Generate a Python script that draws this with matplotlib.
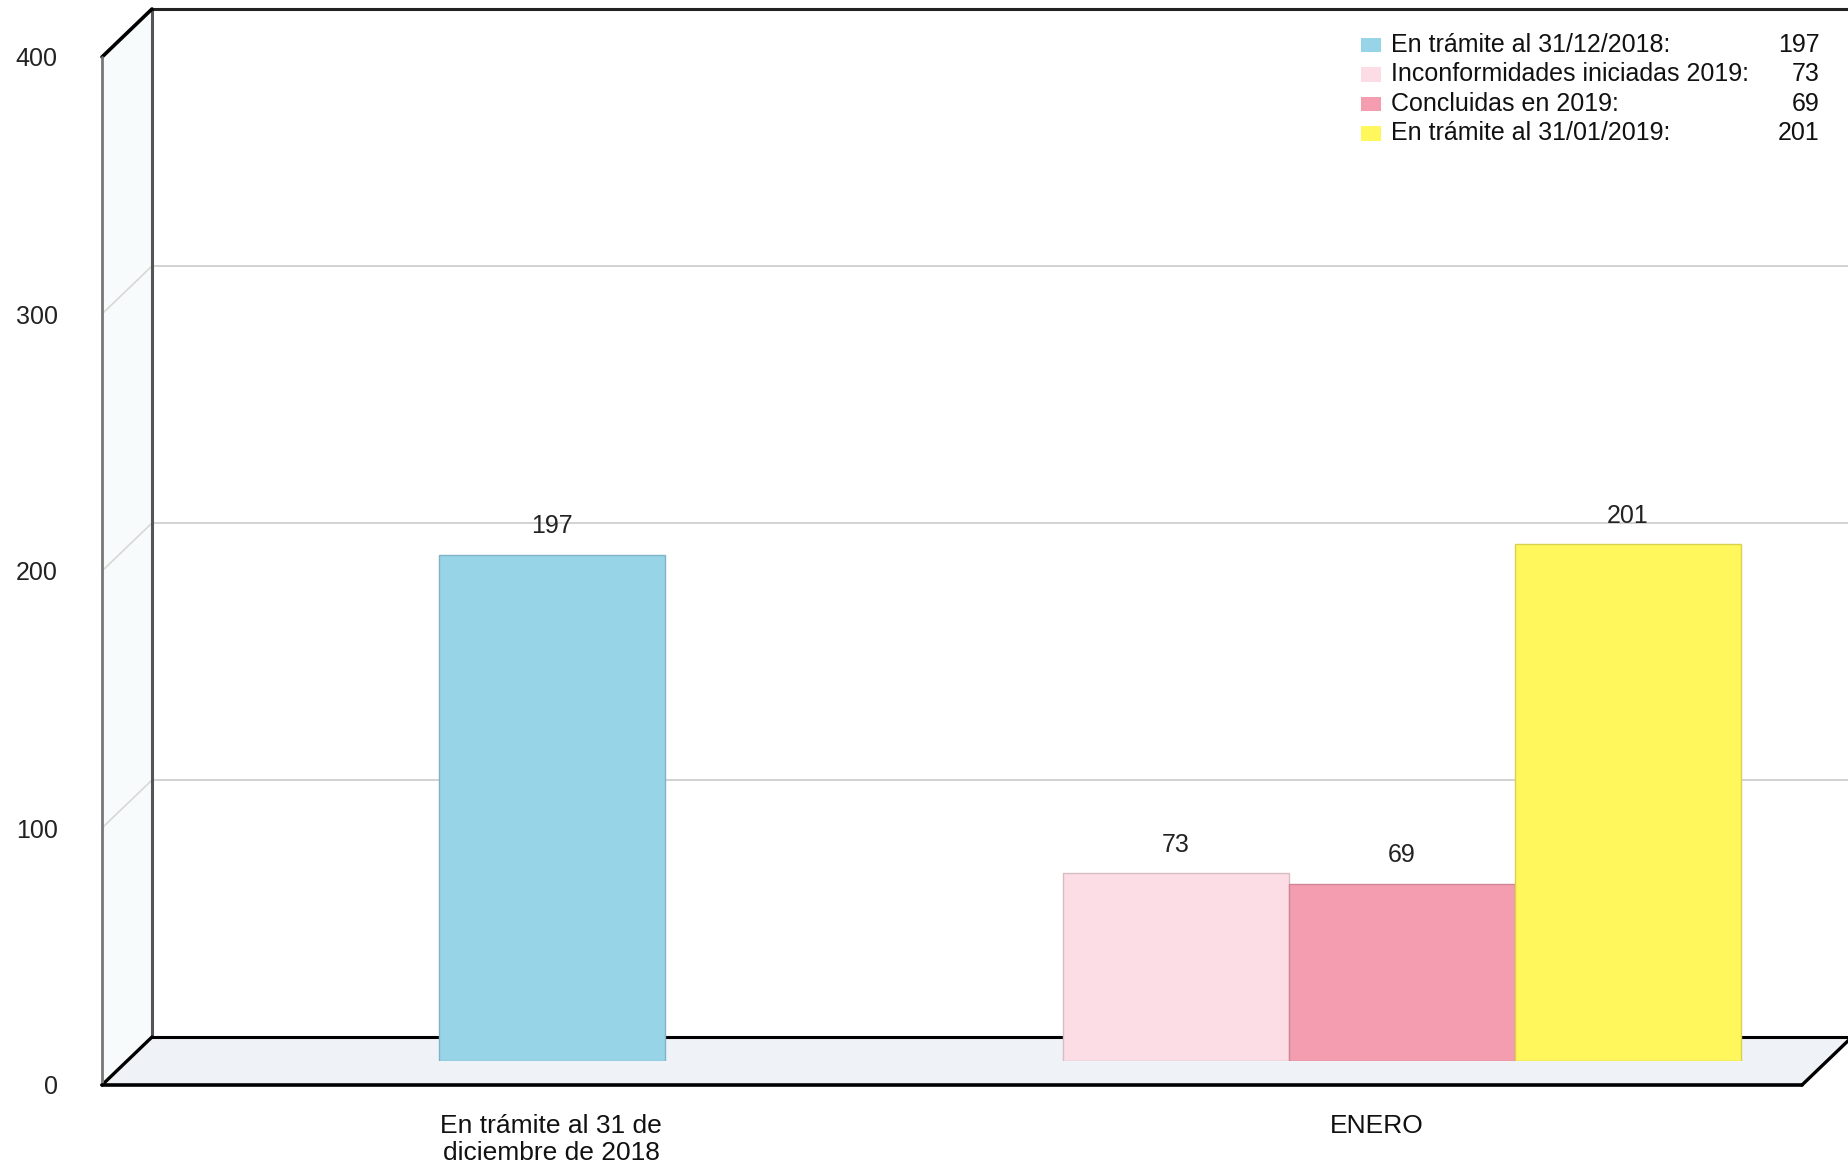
import numpy as np
import matplotlib.pyplot as plt
from matplotlib.lines import Line2D
from matplotlib.patches import Polygon, Rectangle
from matplotlib.colors import to_rgb
from matplotlib.transforms import ScaledTranslation

plt.rcParams['font.family'] = ['Liberation Sans', 'DejaVu Sans']

categories = ["En trámite al 31 de\ndiciembre de 2018", "ENERO"]
series = ["En trámite al 31/12/2018:", "Inconformidades iniciadas 2019:",
          "Concluidas en 2019:", "En trámite al 31/01/2019:"]
values = [197, 73, 69, 201]
bar_category = [0, 1, 1, 1]
colors = ["#97d4e8", "#fcdde5", "#f49db1", "#fff75c"]
yticks = [0, 100, 200, 300, 400]

W, H = 1849, 1167
fig = plt.figure(figsize=(W / 100, H / 100), dpi=100)

# three planes of the fake 3d box: front, middle (bars), back wall
plane_w, plane_h = 1700, 1028
dx, dy = 50, -48


def plane(x0, y0, z):
    ax = fig.add_axes([x0 / W, 1 - y0 / H, plane_w / W, plane_h / H], zorder=z)
    ax.set_xlim(-0.5, len(categories) - 0.5)
    ax.set_ylim(yticks[0], yticks[-1])
    ax.patch.set_visible(False)
    for s in ax.spines.values():
        s.set_visible(False)
    return ax


ax_back = plane(102 + dx, 1085 + dy, 0)
ax_mid = plane(102 + dx / 2, 1085 + dy / 2, 2)
ax_front = plane(102, 1085, 3)
ax_back.set_xticks([])
ax_back.set_yticks([])
ax_mid.set_xticks([])
ax_mid.set_yticks([])

F = ax_front.get_position()
B = ax_back.get_position()


def yfrac(bb, v):
    return bb.y0 + (v - yticks[0]) / (yticks[-1] - yticks[0]) * bb.height


def fig_line(xs, ys, color="black", lw=2.0, z=1):
    fig.add_artist(Line2D(xs, ys, color=color, lw=lw, transform=fig.transFigure,
                          zorder=z, solid_capstyle="round"))


# back wall gridlines
for v in yticks[1:-1]:
    ax_back.axhline(v, color="#cfcfcf", lw=1.3)

# floor and side wall
fig.add_artist(Polygon([(F.x0, F.y0), (F.x1, F.y0), (B.x1, B.y0), (B.x0, B.y0)],
                       closed=True, facecolor="#eff2f7", edgecolor="none",
                       transform=fig.transFigure, zorder=1))
fig.add_artist(Polygon([(F.x0, F.y0), (F.x0, F.y1), (B.x0, B.y1), (B.x0, B.y0)],
                       closed=True, facecolor="#f7fbfb", edgecolor="none",
                       transform=fig.transFigure, zorder=1))
for v in yticks[1:-1]:
    fig_line([F.x0, B.x0], [yfrac(F, v), yfrac(B, v)], color="#d8d8d8", lw=1.2, z=1)

fig_line([B.x0, B.x0], [B.y0, B.y1], color="#555555", lw=2.2, z=1)
fig_line([B.x0, B.x1], [B.y1, B.y1], color="#222222", lw=2.2, z=1)
fig_line([B.x0, B.x1], [B.y0, B.y0], color="black", lw=2.2, z=1)
fig_line([F.x0, B.x0], [F.y1, B.y1], color="black", lw=2.6, z=1)
fig_line([F.x0, B.x0], [F.y0, B.y0], color="black", lw=2.4, z=1)
fig_line([F.x0, F.x0], [F.y0, F.y1], color="#777777", lw=2.0, z=1)
fig_line([F.x0, F.x1], [F.y0, F.y0], color="black", lw=2.6, z=4)
fig_line([F.x1, B.x1], [F.y0, B.y0], color="black", lw=2.4, z=4)

# bars, centred inside their category
bar_w = 0.266
cats = np.array(bar_category)
for c in range(len(categories)):
    idx = np.where(cats == c)[0]
    offs = (np.arange(len(idx)) - (len(idx) - 1) / 2) * bar_w
    for i, o in zip(idx, offs):
        edge = tuple(np.array(to_rgb(colors[i])) * 0.85)
        ax_mid.bar(c + o, values[i], width=bar_w, color=colors[i],
                   edgecolor=edge, linewidth=1.0)
        ax_mid.annotate(str(values[i]), (c + o, values[i]), xytext=(0, 12),
                        textcoords="offset points", ha="center", va="bottom",
                        fontsize=18, color="#222222")

# axis labels on the front plane
ax_front.set_yticks(yticks)
ax_front.set_yticklabels([str(v) for v in yticks])
ax_front.set_xticks(range(len(categories)))
ax_front.set_xticklabels(categories, linespacing=1.15)
ax_front.tick_params(axis="y", length=0, pad=32, labelsize=18, labelcolor="#222222")
ax_front.tick_params(axis="x", length=0, pad=21, labelsize=19, labelcolor="#111111")
first = ax_front.get_xticklabels()[0]
first.set_transform(first.get_transform() + ScaledTranslation(0.24, 0, fig.dpi_scale_trans))

# legend with values
row_y = 0.965
row_step = 0.0287
for i, name in enumerate(series):
    y = row_y - i * row_step
    ax_back.add_patch(Rectangle((0.711, y - 0.007), 0.0118, 0.014, facecolor=colors[i],
                                edgecolor="none", transform=ax_back.transAxes))
    ax_back.text(0.729, y, name, transform=ax_back.transAxes, fontsize=18,
                 va="center", ha="left", color="#111111")
    ax_back.text(0.981, y, str(values[i]), transform=ax_back.transAxes, fontsize=18,
                 va="center", ha="right", color="#111111")

fig.savefig("out.png", dpi=100, facecolor="white")
